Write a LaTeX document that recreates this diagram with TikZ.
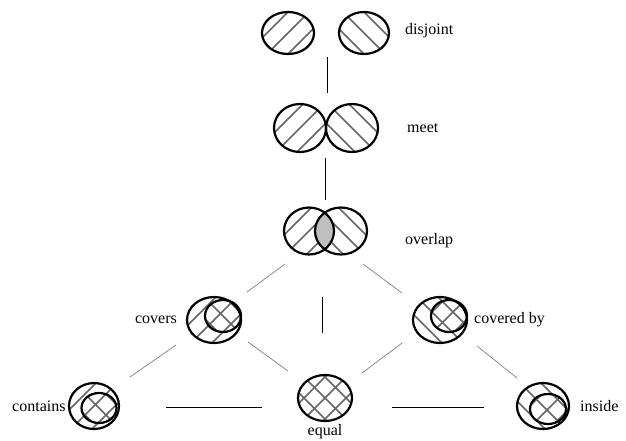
\documentclass[tikz,border=0pt]{standalone}
\usepackage{fontspec}
\setmainfont{Liberation Serif}
\newcommand\myNE[4]{\begin{scope}\clip (#1,#2) ellipse [x radius=#3,y radius=#4];
  \foreach \t in {-63,-42,...,63} \draw[hatchl] ({#1+\t-40},{#2+40}) -- ({#1+\t+40},{#2-40});\end{scope}}
\newcommand\myNW[4]{\begin{scope}\clip (#1,#2) ellipse [x radius=#3,y radius=#4];
  \foreach \t in {-63,-42,...,63} \draw[hatchl] ({#1+\t-40},{#2-40}) -- ({#1+\t+40},{#2+40});\end{scope}}
\newcommand\myOut[4]{\draw[outl] (#1,#2) ellipse [x radius=#3,y radius=#4];}
\begin{document}
\begin{tikzpicture}[x=1pt,y=-1pt,
  outl/.style={line width=2.2pt},
  hatchl/.style={line width=1.6pt, black!60},
  conn/.style={line width=1pt},
  gconn/.style={line width=0.7pt, black!50},
  lbl/.style={font=\fontsize{16}{19}\selectfont, inner sep=0pt}]
\useasboundingbox (0,0) rectangle (626,440);
% disjoint
\myNE{288}{33}{26}{21}\myNW{364}{33}{25}{21}
\myOut{288}{33}{26}{21}\myOut{364}{33}{25}{21}
\node[lbl,anchor=west] (tdisjoint) at (405,31) {disjoint};
% meet
\myNE{300}{128}{26}{24}\myNW{352}{128}{26}{24}
\myOut{300}{128}{26}{24}\myOut{352}{128}{26}{24}
\node[lbl,anchor=west] (tmeet) at (407,128) {meet};
% overlap
\myNE{309}{231}{25}{23.5}\myNW{341}{231}{26}{23.5}
\begin{scope}\clip (309,231) ellipse [x radius=25,y radius=23.5];
\fill[black!25] (341,231) ellipse [x radius=26,y radius=23.5];\end{scope}
\myOut{309}{231}{25}{23.5}\myOut{341}{231}{26}{23.5}
\node[lbl,anchor=west] (toverlap) at (405,241) {overlap};
% covers
\myNE{214}{320}{27}{23}\myNW{223}{316}{18}{16}
\myOut{214}{320}{27}{23}\myOut{223}{316}{18}{16}
\node[lbl,anchor=east] (tcovers) at (177,320) {covers};
% covered by
\myNW{440}{320}{27}{23}\myNE{449}{316}{18}{16}
\myOut{440}{320}{27}{23}\myOut{449}{316}{18}{16}
\node[lbl,anchor=west] (tcoveredby) at (474,320) {covered by};
% contains
\myNE{94}{406}{25}{23}\myNW{99}{408}{17.5}{15}
\myOut{94}{406}{25}{23}\myOut{99}{408}{17.5}{15}
\node[lbl,anchor=west] (tcontains) at (12,406) {contains};
% equal
\myNE{325}{398}{27}{23}\myNW{325}{398}{27}{23}
\myOut{325}{398}{27}{23}
\node[lbl] (tequal) at (325,432) {equal};
% inside
\myNW{543}{406}{26}{23}\myNE{548}{409}{18}{15}
\myOut{543}{406}{26}{23}\myOut{548}{409}{18}{15}
\node[lbl,anchor=west] (tinside) at (580,406) {inside};
% connector end points
\coordinate (a1) at (327,57); \coordinate (a2) at (327,93);
\coordinate (b1) at (325,158); \coordinate (b2) at (325,200);
\coordinate (c1) at (322,297); \coordinate (c2) at (322,333);
\coordinate (d1) at (285,264); \coordinate (d2) at (247,292);
\coordinate (e1) at (363,264); \coordinate (e2) at (402,293);
\coordinate (f1) at (176,345); \coordinate (f2) at (130,377);
\coordinate (g1) at (248,342); \coordinate (g2) at (288,371);
\coordinate (h1) at (402,343); \coordinate (h2) at (362,373);
\coordinate (i1) at (477,346); \coordinate (i2) at (517,378);
\coordinate (j1) at (166,407); \coordinate (j2) at (262,407);
\coordinate (k1) at (392,407); \coordinate (k2) at (484,407);
\draw[conn] (a1) -- (a2);
\draw[conn] (b1) -- (b2);
\draw[conn] (c1) -- (c2);
\draw[gconn] (d1) -- (d2);
\draw[gconn] (e1) -- (e2);
\draw[gconn] (f1) -- (f2);
\draw[gconn] (g1) -- (g2);
\draw[gconn] (h1) -- (h2);
\draw[gconn] (i1) -- (i2);
\draw[conn] (j1) -- (j2);
\draw[conn] (k1) -- (k2);
\end{tikzpicture}
\end{document}
